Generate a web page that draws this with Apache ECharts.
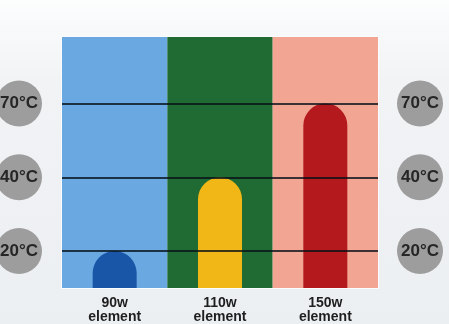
<!DOCTYPE html>
<html>
<head>
<meta charset="utf-8">
<script src="https://cdn.jsdelivr.net/npm/echarts@6/dist/echarts.min.js"></script>
<style>
  html, body { margin: 0; padding: 0; }
  body { width: 449px; height: 324px; background: linear-gradient(#fcfdfd 0%, #f1f3f5 25%, #eceff2 100%); overflow: hidden; }
  #chart { width: 449px; height: 324px; }
</style>
</head>
<body>
<div id="chart"></div>
<script>
// ---- data ----
const categories = ['90w\nelement', '110w\nelement', '150w\nelement'];
const tempTicks = [20, 40, 70];
const tickLabels = ['20°C', '40°C', '70°C'];
const barTemps = [20, 40, 70];
const columnColors = ['#69a8e0', '#1f6b33', '#f2a593'];
const barColors = ['#1a56a8', '#f0b716', '#b3191d'];

// each temperature maps to its (evenly spaced) scale level
const levelOf = t => tempTicks.indexOf(t) + 1;
const barLevels = barTemps.map(levelOf);
const tickLevels = tempTicks.map(levelOf);

const labelFont = "'Liberation Sans Narrow', 'Liberation Sans', Arial, sans-serif";
const circleRich = {
  c: {
    width: 46, height: 46, lineHeight: 46, borderRadius: 23,
    backgroundColor: '#9d9d9d', color: '#262626', align: 'center',
    fontSize: 17, fontWeight: 'bold', fontFamily: "'Liberation Sans', Arial, sans-serif"
  }
};
const yLabel = v => Number.isInteger(v) && v >= 1 && v <= tickLabels.length ? '{c|' + tickLabels[v - 1] + '}' : '';

const yBase = {
  type: 'value', min: 0.5, max: 3.9, interval: 0.5,
  axisLine: { show: false }, axisTick: { show: false }, splitLine: { show: false }
};

const chart = echarts.init(document.getElementById('chart'));
chart.setOption({
  animation: false,
  backgroundColor: 'transparent',
  grid: { left: 62, right: 71, top: 37, bottom: 36, containLabel: false, outerBoundsMode: 'none', show: true, borderColor: '#fbfcfd', borderWidth: 2, backgroundColor: 'transparent' },
  xAxis: {
    type: 'category', data: categories,
    axisLine: { show: false }, axisTick: { show: false },
    splitArea: { show: true, areaStyle: { color: columnColors } },
    axisLabel: { margin: 8, color: '#1e1e1e', fontSize: 14, lineHeight: 14, fontWeight: 'bold', fontFamily: labelFont }
  },
  yAxis: [
    Object.assign({}, yBase, { position: 'left', axisLabel: { margin: 20, formatter: yLabel, rich: circleRich } }),
    Object.assign({}, yBase, { position: 'right', axisLabel: { margin: 19, formatter: yLabel, rich: circleRich } })
  ],
  series: [
    {
      type: 'line', data: barLevels, z: 1, silent: true,
      showSymbol: false, lineStyle: { width: 0, opacity: 0 },
      markLine: {
        silent: true, symbol: 'none', label: { show: false },
        lineStyle: { color: 'rgba(8,16,24,0.78)', width: 2, type: 'solid' },
        data: tickLevels.map(l => ({ yAxis: l }))
      }
    },
    {
      type: 'bar', z: 3, barWidth: 44,
      data: barLevels.map((v, i) => ({
        value: v,
        itemStyle: {
          color: barColors[i],
          borderRadius: [22, 22, 0, 0]
        }
      }))
    }
  ]
});
</script>
</body>
</html>
